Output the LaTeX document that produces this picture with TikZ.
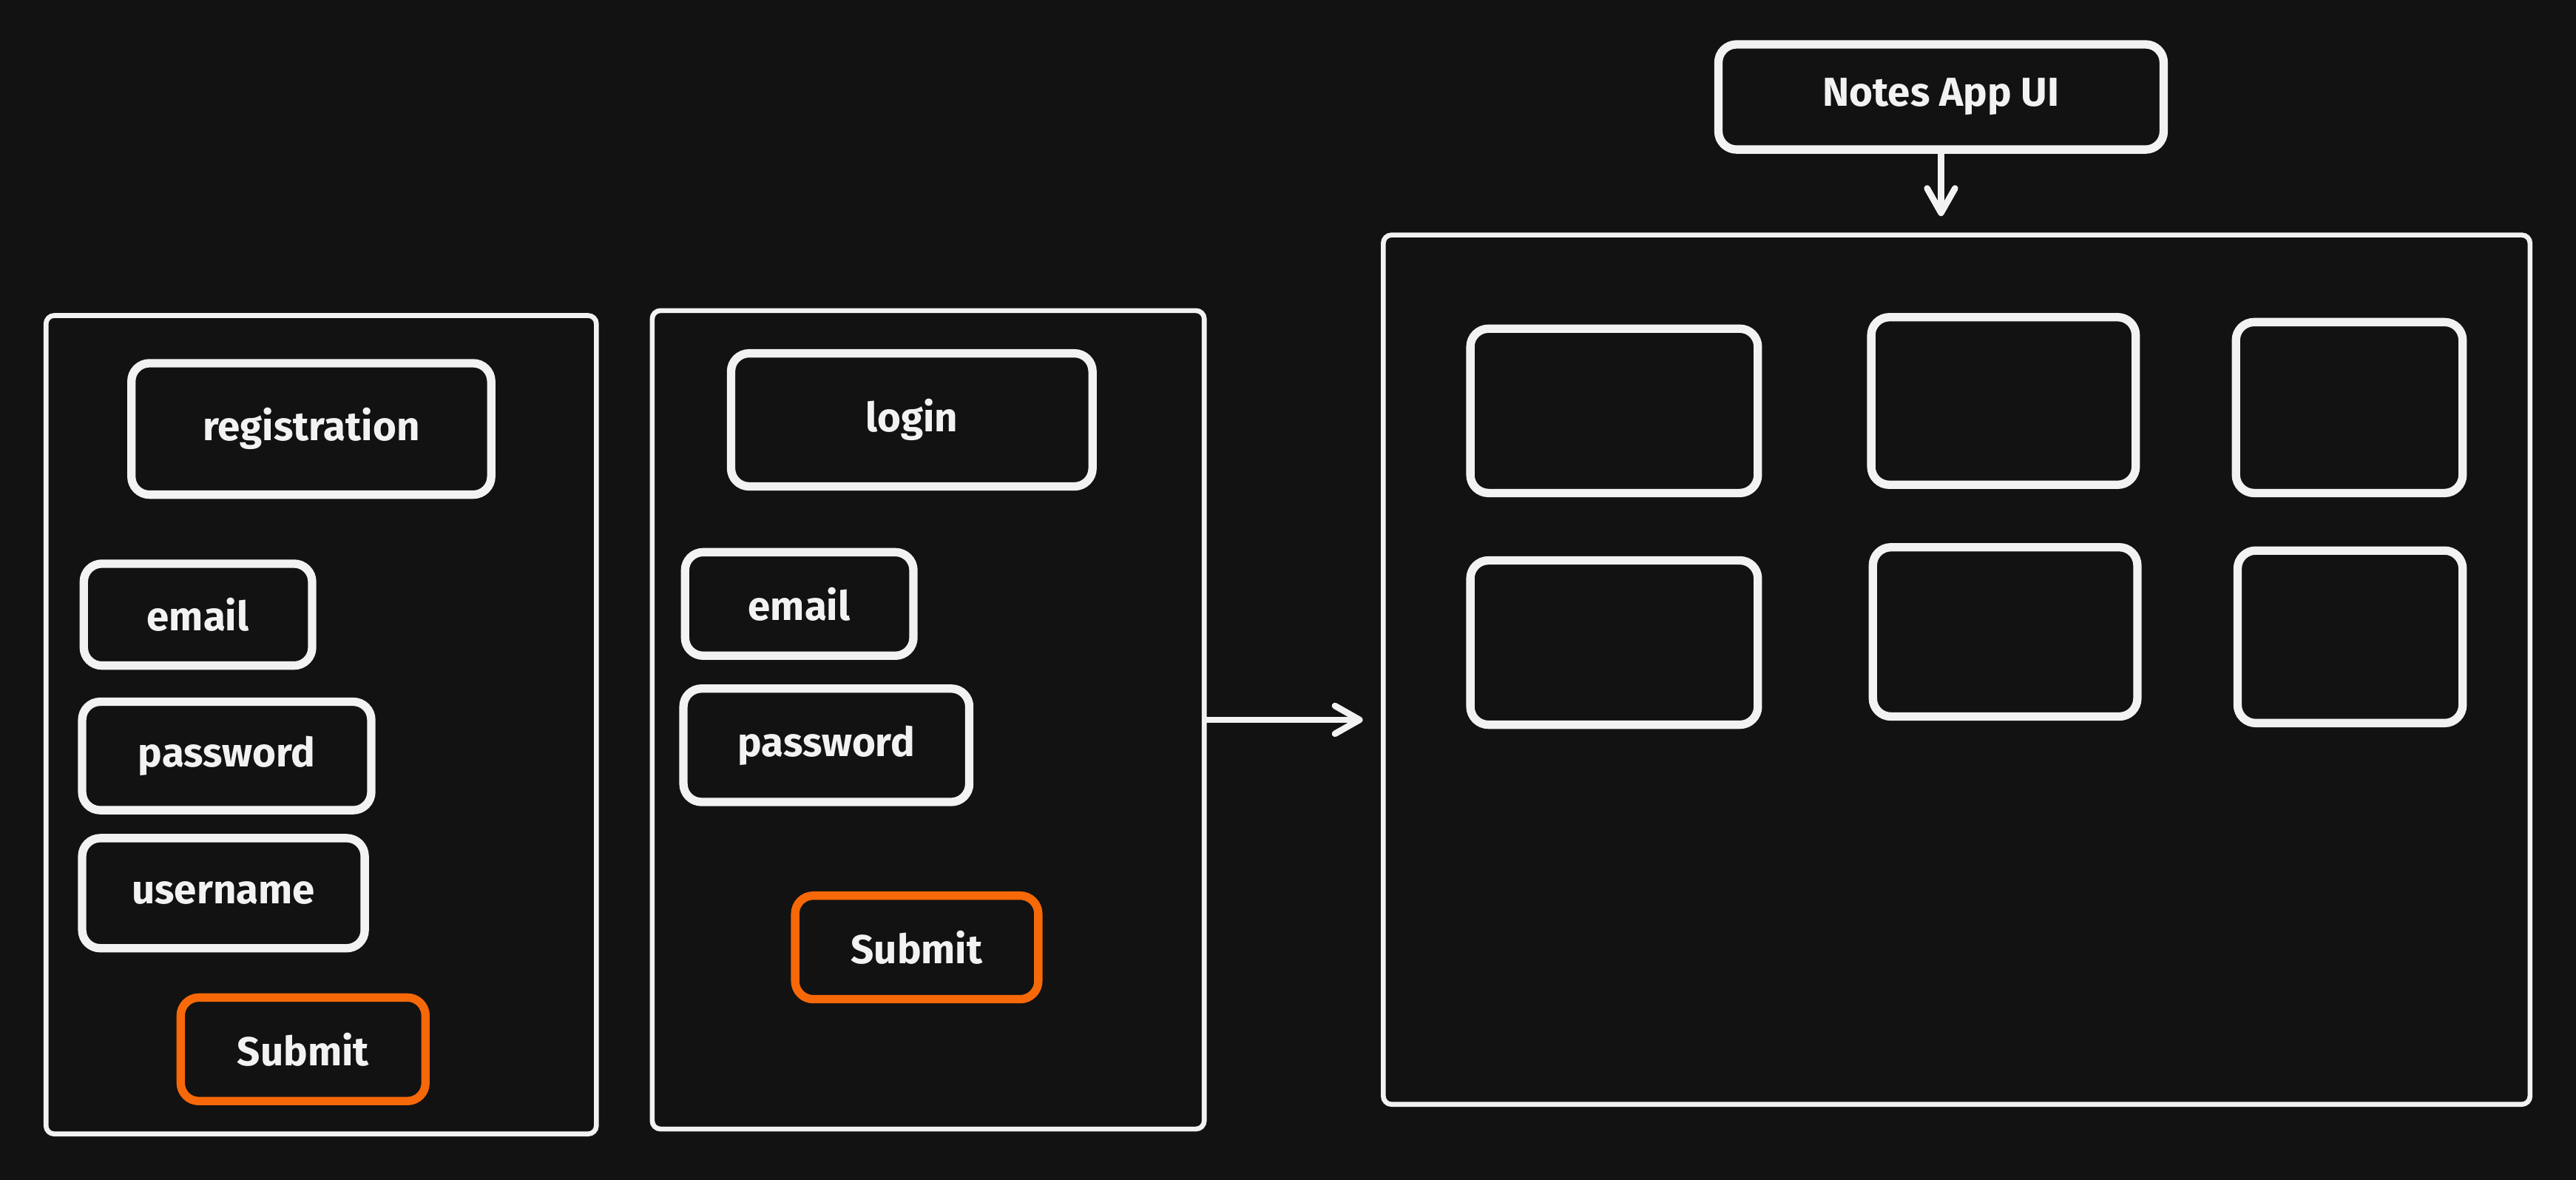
\documentclass[tikz,border=0pt]{standalone}
\usepackage{fontspec}
\setmainfont{Fira Sans}
\usetikzlibrary{arrows.meta}
\definecolor{bg}{RGB}{18,18,18}
\definecolor{ink}{RGB}{242,242,242}
\definecolor{orng}{RGB}{246,104,8}
\tikzset{
    sz/.style 2 args={minimum width=#1*0.02cm, minimum height=#2*0.02cm},
    frame/.style={draw=ink, line width=1.7pt, rounded corners=0.1cm, inner sep=0pt},
    field/.style={draw=ink, line width=2.9pt, rounded corners=0.22cm, inner sep=0pt,
        text=ink, font=\bfseries\fontsize{14}{16}\selectfont},
    btn/.style={field, draw=orng},
    arr/.style={draw=ink, line width=2.2pt, line cap=round,
        -{Straight Barb[length=0.3cm, width=0.34cm, round]}}
}
\begin{document}
\begin{tikzpicture}[x=0.02cm, y=-0.02cm]
    \fill[bg] (0,0) rectangle (1568,718);
    % containers
    \node[frame, sz={335}{498}] (reg) at (195.5,441) {};
    \node[frame, sz={336}{498}] (login) at (565,438) {};
    \node[frame, sz={698}{529}] (main) at (1191,407.5) {};
    \node[field, sz={271}{64}] (notes) at (1181.5,59) {Notes App UI};
    % registration form
    \node[field, sz={219}{80}] (regtitle) at (189.5,261) {registration};
    \node[field, sz={139}{62}] (remail) at (120.5,374) {email};
    \node[field, sz={176}{66}] (rpass) at (138,460) {password};
    \node[field, sz={172}{67}] (ruser) at (136,543.5) {username};
    \node[btn, sz={149}{63}] (rsubmit) at (184.5,638.5) {Submit};
    % login form
    \node[field, sz={220}{81}] (logtitle) at (555,255.5) {login};
    \node[field, sz={139}{63}] (lemail) at (486.5,367.5) {email};
    \node[field, sz={174}{69}] (lpass) at (503,453.5) {password};
    \node[btn, sz={148}{63}] (lsubmit) at (558,576.5) {Submit};
    % note cards
    \node[field, sz={175}{100}] (c1) at (982.5,250) {};
    \node[field, sz={161}{102}] (c2) at (1219.5,244) {};
    \node[field, sz={138}{104}] (c3) at (1430,248) {};
    \node[field, sz={175}{100}] (c4) at (982.5,391) {};
    \node[field, sz={161}{103}] (c5) at (1220.5,384.5) {};
    \node[field, sz={137}{105}] (c6) at (1430.5,387.5) {};
    \path
    (notes.south) edge[arr, shorten >=0.2cm] (notes.south |- main.north)
    (login.east) edge[arr, shorten >=0.22cm] (login.east -| main.west);
\end{tikzpicture}
\end{document}
